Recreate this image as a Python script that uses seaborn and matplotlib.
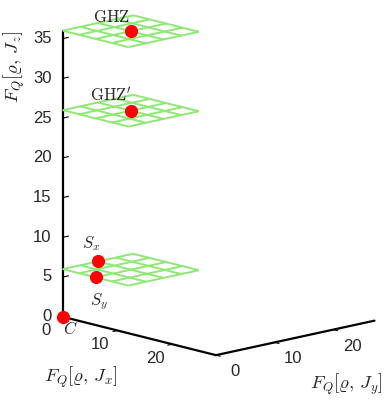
import matplotlib
matplotlib.use("Agg")
import matplotlib.pyplot as plt
import numpy as np
import seaborn as sns
from matplotlib.ticker import NullFormatter
from mpl_toolkits.mplot3d import proj3d

# levels of the green planes (F_Q[rho, J_z]) and their grid lines in x and y
plane_z = [6, 26, 36]
grid_xy = [0, 3, 6, 9, 12]

# the states, drawn as red dots
state_names = ["$C$", "$S_x$", "$S_y$", r"$\mathrm{GHZ}'$", r"$\mathrm{GHZ}$"]
state_x = [0, 0, 6, 6, 6]
state_y = [0, 6, 0, 6, 6]
state_z = [0, 6, 6, 26, 36]

x_ticks = [0, 10, 20]
y_ticks = [0, 10, 20]
z_ticks = [0, 5, 10, 15, 20, 25, 30, 35]

x_lim = (0, 28)
y_lim = (0, 27)
z_lim = (0, 36)

# where each name sits relative to its dot (data units)
name_shift = [(1.3, 0, -1.3), (0, -1.2, 2.45), (0.7, 0, -2.9),
              (-1.75, -1.75, 1.9), (-1.75, -1.75, 1.75)]

sns.set_style("white")
plt.rcParams["font.family"] = ["Liberation Sans", "DejaVu Sans"]
plt.rcParams["mathtext.fontset"] = "cm"
plt.rcParams["xtick.color"] = "black"
plt.rcParams["ytick.color"] = "black"

fig = plt.figure(figsize=(3.86, 4.0), dpi=100)
side = 378.6
ax = fig.add_axes([0.0627, 0.0748, side / 386, side / 400], projection="3d")
ax.set_proj_type("ortho")
ax.view_init(elev=13.5, azim=-43)
ax.set_xlim(*x_lim)
ax.set_ylim(*y_lim)
ax.set_zlim(*z_lim)
ax.set_box_aspect((226, 218, 296), zoom=1.1)
ax.computed_zorder = False

green = "#8ee874"
gx, gy = np.meshgrid(grid_xy, grid_xy)
for z in plane_z:
    ax.plot_wireframe(gx, gy, np.full(gx.shape, float(z)), color=green,
                      linewidth=1.4, zorder=1)

ax.scatter(state_x, state_y, state_z, s=90, color="red", depthshade=False,
           linewidths=0, zorder=5)

# axes: MATLAB-like, no panes, no grid, z axis on the left corner
ax.grid(False)
ax.set_xticks(x_ticks)
ax.set_yticks(y_ticks)
ax.set_zticks(z_ticks)
ax.zaxis.set_ticks_position("lower")
ax.zaxis.set_label_position("lower")
for axis in (ax.xaxis, ax.yaxis, ax.zaxis):
    axis.set_major_formatter(NullFormatter())
    axis.set_pane_color((1, 1, 1, 0))
    axis.pane.set_edgecolor((1, 1, 1, 0))
    axis.line.set_color("black")
    axis.line.set_linewidth(1.6)
    axis._axinfo["tick"]["inward_factor"] = 0.35
    axis._axinfo["tick"]["outward_factor"] = 0.0
ax.zaxis._axinfo["tick"]["inward_factor"] = 0.0
ax.zaxis._axinfo["tick"]["outward_factor"] = 0.45

# texts are placed in 2D at the projected position of a 3D point
M = ax.get_proj()


def put(x, y, z, s, **kw):
    px, py, _ = proj3d.proj_transform(x, y, z, M)
    ax.text2D(px, py, s, transform=ax.transData, **kw)


for name, x, y, z, (dx, dy, dz) in zip(state_names, state_x, state_y, state_z, name_shift):
    put(x + dx, y + dy, z + dz, name, fontsize=12, ha="center", va="center",
        zorder=6)

# tick labels, placed like MATLAB does
for t in x_ticks:
    put(t, y_lim[0] - 2.9, z_lim[0] - 1.3, str(t), fontsize=12,
        ha="center", va="center")
for t in y_ticks:
    put(x_lim[1] + 3.4, t, z_lim[0] - 1.5, str(t), fontsize=12,
        ha="center", va="center")
for t in z_ticks:
    put(x_lim[0] - 1.0, y_lim[0] - 1.0, t, str(t), fontsize=12,
        ha="right", va="center")

fig.text(81 / 386, 1 - 377 / 400, r"$F_Q[\varrho,\, J_x]$", fontsize=13.5,
         ha="center", va="center")
fig.text(346 / 386, 1 - 384 / 400, r"$F_Q[\varrho,\, J_y]$", fontsize=13.5,
         ha="center", va="center")
fig.text(14 / 386, 1 - 67 / 400, r"$F_Q[\varrho,\, J_z]$", fontsize=13.5,
         ha="center", va="center", rotation=90)

fig.savefig("out.png", dpi=100)
